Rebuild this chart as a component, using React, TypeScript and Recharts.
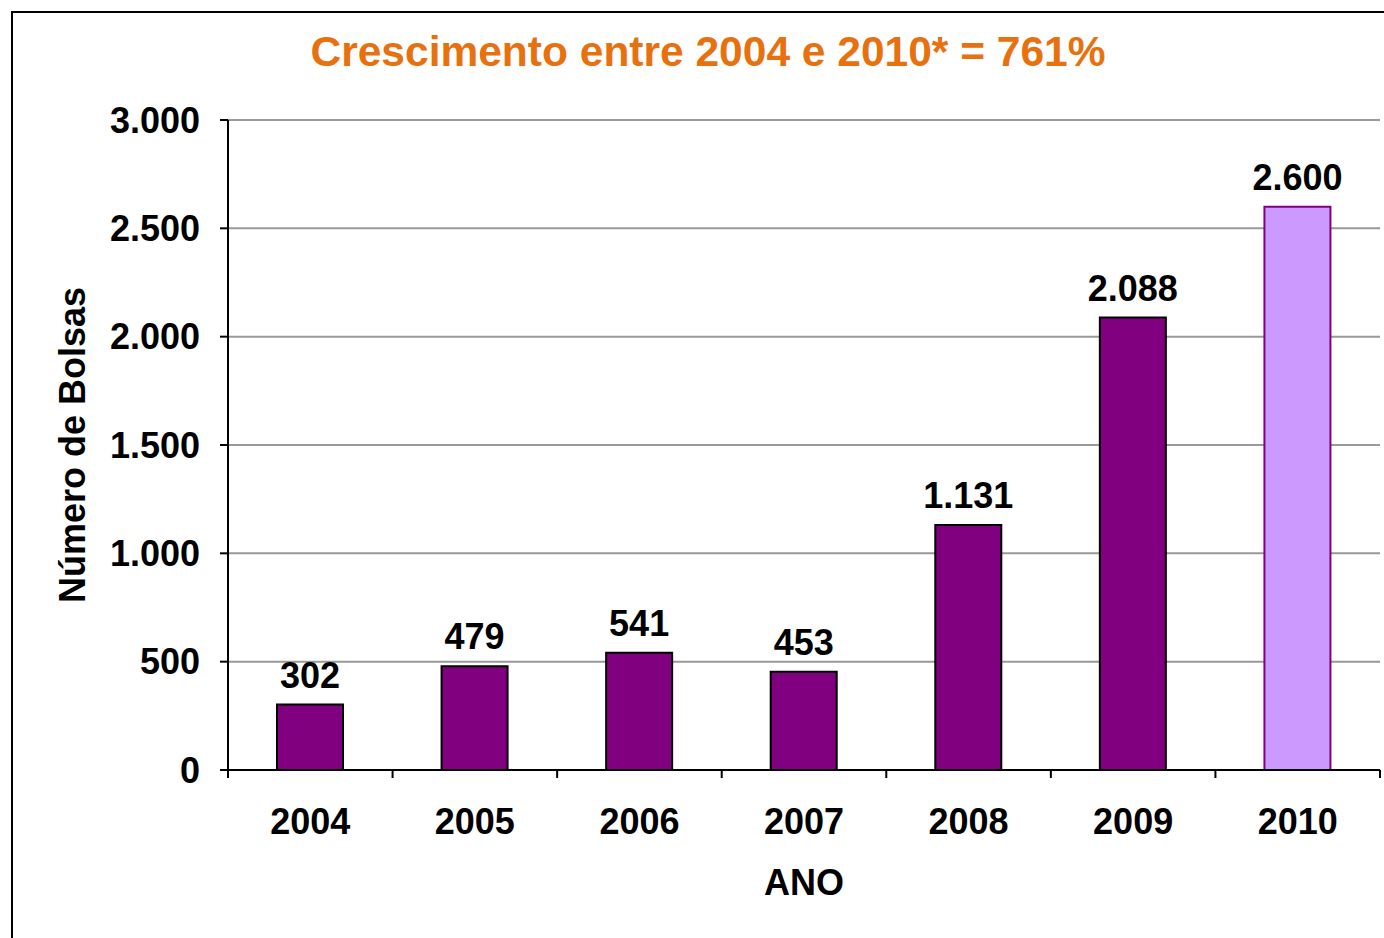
import React from 'react';
import { BarChart, Bar, XAxis, YAxis, CartesianGrid, LabelList, Cell } from 'recharts';

const years = ['2004', '2005', '2006', '2007', '2008', '2009', '2010'];
const bolsas = [302, 479, 541, 453, 1131, 2088, 2600];
const yTicks = [0, 500, 1000, 1500, 2000, 2500, 3000];
const projectedYear = '2010';

const title = 'Crescimento entre 2004 e 2010* = 761%';
const yLabel = 'Número de Bolsas';
const xLabel = 'ANO';

const data = years.map((y, i) => ({ year: y, value: bolsas[i] }));

const FONT = '"Liberation Sans", Arial, Helvetica, sans-serif';
const X_TICK_MARGIN = 38;
const TICK_LEN = 8;

const fmt = (v: number | string) => String(v).replace(/\B(?=(\d{3})+(?!\d))/g, '.');

const YLabel = (props: any) => {
  const vb = props.viewBox || {};
  const cx = (vb.x || 0) + 72;
  const cy = (vb.y || 0) + (vb.height || 0) / 2;
  return (
    <text
      x={cx}
      y={cy}
      transform={`rotate(-90, ${cx}, ${cy})`}
      textAnchor="middle"
      dominantBaseline="central"
      fontFamily={FONT}
      fontWeight="bold"
      fontSize={36}
      fill="#000"
    >
      {yLabel}
    </text>
  );
};

const XTick = (props: any) => {
  const { x, y, payload, width, visibleTicksCount, index } = props;
  const band = width / visibleTicksCount;
  const axisY = y - X_TICK_MARGIN;
  const left = x - band / 2;
  const right = x + band / 2;
  return (
    <g>
      <line x1={left} x2={left} y1={axisY} y2={axisY + TICK_LEN} stroke="#000" strokeWidth={2} />
      {index === visibleTicksCount - 1 && (
        <line x1={right} x2={right} y1={axisY} y2={axisY + TICK_LEN} stroke="#000" strokeWidth={2} />
      )}
      <text
        x={x}
        y={y}
        dy="0.71em"
        textAnchor="middle"
        fill="#000"
        fontSize={36}
        fontWeight="bold"
        fontFamily={FONT}
      >
        {payload.value}
      </text>
    </g>
  );
};

export default function App() {
  return (
    <div style={{ position: 'absolute', left: 0, top: 0, width: 1384, height: 938, overflow: 'hidden', background: '#fff' }}>
      <div
        style={{
          position: 'absolute',
          left: 11,
          top: 11,
          width: 1420,
          height: 1000,
          border: '2.5px solid #000',
          boxSizing: 'border-box',
        }}
      />
      <div
        style={{
          position: 'absolute',
          left: 0,
          width: 1416,
          top: 26,
          textAlign: 'center',
          fontFamily: FONT,
          fontWeight: 'bold',
          fontSize: 42.5,
          lineHeight: '52px',
          color: '#E8710F',
        }}
      >
        {title}
      </div>
      <div style={{ position: 'absolute', left: 0, top: 0 }}>
        <BarChart
          width={1384}
          height={938}
          data={data}
          margin={{ top: 120, right: 4, bottom: 0, left: 0 }}
          barSize={66}
        >
          <CartesianGrid horizontal vertical={false} stroke="#999" strokeWidth={2} />
          <YAxis
            width={228}
            domain={[0, 3000]}
            ticks={yTicks}
            interval={0}
            tickFormatter={fmt}
            axisLine={{ stroke: '#000', strokeWidth: 2 }}
            tickLine={{ stroke: '#000', strokeWidth: 2 }}
            tickSize={TICK_LEN}
            tickMargin={20}
            tick={{ fill: '#000', fontSize: 36, fontWeight: 'bold', fontFamily: FONT }}
            label={<YLabel />}
          />
          <XAxis
            dataKey="year"
            height={168}
            interval={0}
            axisLine={{ stroke: '#000', strokeWidth: 2 }}
            tickLine={false}
            tickSize={0}
            tickMargin={X_TICK_MARGIN}
            tick={<XTick />}
            label={{
              value: xLabel,
              position: 'insideBottom',
              offset: 43,
              fill: '#000',
              fontSize: 36,
              fontWeight: 'bold',
              fontFamily: FONT,
            }}
          />
          <Bar dataKey="value" isAnimationActive={false}>
            {data.map((d) => (
              <Cell
                key={d.year}
                fill={d.year === projectedYear ? '#CC99FF' : '#800080'}
                stroke={d.year === projectedYear ? '#800080' : '#000'}
                strokeWidth={2}
              />
            ))}
            <LabelList
              dataKey="value"
              position="top"
              offset={17}
              formatter={fmt}
              fill="#000"
              fontSize={36}
              fontWeight="bold"
              fontFamily={FONT}
            />
          </Bar>
        </BarChart>
      </div>
    </div>
  );
}
